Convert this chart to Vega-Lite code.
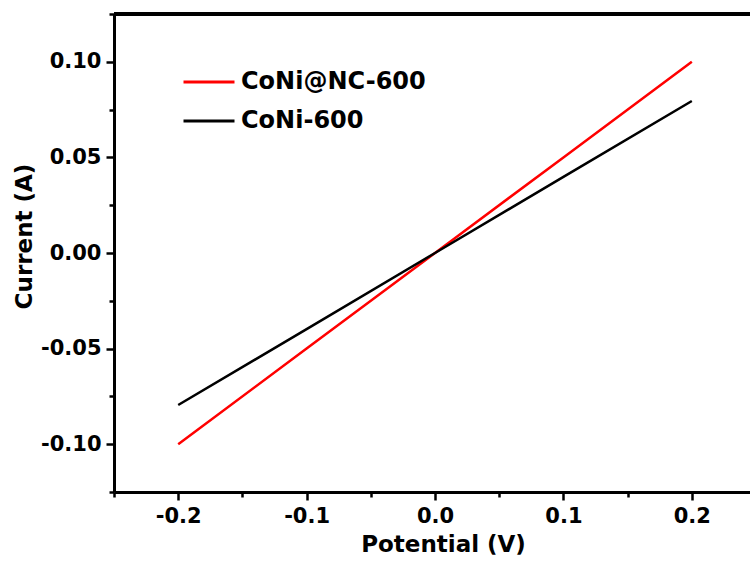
{
  "$schema": "https://vega.github.io/schema/vega-lite/v6.json",
  "width": 636,
  "height": 478,
  "autosize": {"type": "none"},
  "padding": {"left": 114, "top": 14, "right": 0, "bottom": 76},
  "background": "white",
  "config": {
    "view": {"stroke": null},
    "font": "DejaVu Sans",
    "axis": {
      "domainColor": "black",
      "domainWidth": 3,
      "tickColor": "black",
      "tickWidth": 2.5,
      "labelColor": "black",
      "labelFont": "DejaVu Sans",
      "labelFontWeight": "bold",
      "labelFontSize": 21,
      "titleFont": "DejaVu Sans",
      "titleFontWeight": "bold",
      "titleFontSize": 23,
      "titleColor": "black",
      "grid": false,
      "labelOverlap": false,
      "labelFlush": false,
      "labelBound": false
    },
    "legend": {
      "labelFont": "DejaVu Sans",
      "labelFontWeight": "bold",
      "labelFontSize": 24,
      "labelColor": "black",
      "labelLimit": 0
    }
  },
  "data": {
    "values": [
      {"V": -0.2, "I": -0.1, "sample": "CoNi@NC-600"},
      {"V": -0.1, "I": -0.05, "sample": "CoNi@NC-600"},
      {"V": 0.0, "I": 0.0, "sample": "CoNi@NC-600"},
      {"V": 0.1, "I": 0.05, "sample": "CoNi@NC-600"},
      {"V": 0.2, "I": 0.1, "sample": "CoNi@NC-600"},
      {"V": -0.2, "I": -0.0795, "sample": "CoNi-600"},
      {"V": -0.1, "I": -0.0398, "sample": "CoNi-600"},
      {"V": 0.0, "I": 0.0, "sample": "CoNi-600"},
      {"V": 0.1, "I": 0.0398, "sample": "CoNi-600"},
      {"V": 0.2, "I": 0.0795, "sample": "CoNi-600"}
    ]
  },
  "layer": [
    {
      "mark": {"type": "line", "strokeWidth": 2.5, "clip": true},
      "encoding": {
        "x": {
          "field": "V",
          "type": "quantitative",
          "scale": {"domain": [-0.25, 0.2453], "nice": false, "zero": false},
          "axis": {
            "title": "Potential (V)",
            "values": [-0.25, -0.2, -0.15, -0.1, -0.05, 0, 0.05, 0.1, 0.15, 0.2],
            "labelExpr": "abs(datum.value*10 - round(datum.value*10)) < 0.01 ? replace(format(datum.value, '.1f'), '\u2212', '-') : ''",
            "tickSize": {"condition": {"test": "abs(datum.value*10 - round(datum.value*10)) < 0.01", "value": 8}, "value": 5},
            "labelPadding": 5,
            "titleX": 329,
            "titleY": 52,
            "titleBaseline": "middle",
            "titleAlign": "center"
          }
        },
        "y": {
          "field": "I",
          "type": "quantitative",
          "scale": {"domain": [-0.125, 0.125], "nice": false, "zero": false},
          "axis": {
            "title": "Current (A)",
            "values": [-0.125, -0.1, -0.075, -0.05, -0.025, 0, 0.025, 0.05, 0.075, 0.1, 0.125],
            "labelExpr": "abs(datum.value*20 - round(datum.value*20)) < 0.01 ? replace(format(datum.value, '.2f'), '\u2212', '-') : ''",
            "tickSize": {"condition": {"test": "abs(datum.value*20 - round(datum.value*20)) < 0.01", "value": 8}, "value": 5},
            "labelPadding": 5,
            "titleX": -90,
            "titleY": 222,
            "titleBaseline": "middle",
            "titleAlign": "center",
            "titleAngle": -90
          }
        },
        "color": {
          "field": "sample",
          "type": "nominal",
          "scale": {"domain": ["CoNi@NC-600", "CoNi-600"], "range": ["#ff0000", "#000000"]},
          "legend": {
            "title": null,
            "orient": "none",
            "legendX": 68,
            "legendY": 41,
            "symbolType": "stroke",
            "symbolSize": 2601,
            "symbolStrokeWidth": 3,
            "labelOffset": 5,
            "labelLimit": 0,
            "rowPadding": -14,
            "padding": 0
          }
        }
      }
    },
    {
      "mark": {"type": "rule", "color": "black", "strokeWidth": 3},
      "encoding": {"y": {"datum": 0.125}}
    }
  ]
}
